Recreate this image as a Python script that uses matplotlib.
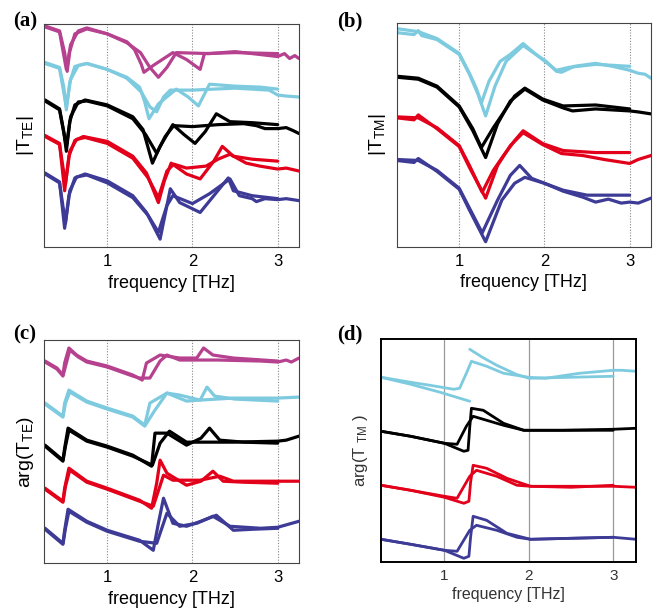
import numpy as np
import matplotlib.pyplot as plt

plt.rcParams['font.family'] = ['Liberation Sans', 'DejaVu Sans']

# sample colours, top to bottom
MAGENTA = '#b5418f'
CYAN = '#7ecbe0'
BLACK = '#000000'
RED = '#e2001a'
BLUE = '#3d3b96'

# ---- (a) |T_TE|  (frequency THz, offset amplitude a.u.) ----
a_magenta_sim = [(0.27, 222), (0.44, 217), (0.50, 195), (0.53, 176), (0.56, 196), (0.62, 214), (0.76, 219),
                 (1.0, 214), (1.23, 206), (1.32, 198), (1.40, 183), (1.43, 175), (1.54, 182), (1.77, 195),
                 (1.93, 188), (2.09, 178), (2.14, 194), (2.5, 195), (3.0, 194)]
a_magenta_meas = [(0.27, 221), (0.44, 216), (0.52, 178), (0.57, 203), (0.66, 217), (0.76, 220), (1.0, 214),
                  (1.23, 205), (1.39, 195), (1.50, 180), (1.60, 170), (1.70, 180), (1.81, 195), (2.2, 194),
                  (2.5, 196), (2.8, 193), (3.0, 191), (3.08, 194), (3.14, 189), (3.2, 192), (3.25, 189)]
a_cyan_sim = [(0.27, 185), (0.44, 180), (0.49, 160), (0.52, 137), (0.56, 165), (0.62, 181), (0.76, 184),
              (1.0, 178), (1.23, 170), (1.38, 160), (1.44, 145), (1.49, 128), (1.60, 143), (1.81, 158),
              (1.95, 150), (2.07, 141), (2.2, 163), (2.5, 161), (2.8, 160), (3.0, 158)]
a_cyan_meas = [(0.27, 184), (0.44, 179), (0.52, 140), (0.57, 168), (0.66, 182), (0.76, 184), (1.0, 178),
               (1.23, 169), (1.40, 155), (1.50, 140), (1.58, 135), (1.66, 150), (1.74, 157), (2.0, 157),
               (2.5, 159), (2.9, 157), (3.0, 152), (3.1, 151), (3.25, 150)]
a_black_sim = [(0.27, 147), (0.44, 138), (0.49, 115), (0.52, 95), (0.56, 125), (0.62, 142), (0.74, 147),
               (1.0, 142), (1.30, 130), (1.42, 117), (1.53, 83), (1.62, 100), (1.77, 122), (1.90, 112),
               (2.03, 103), (2.15, 115), (2.28, 133), (2.44, 125), (2.7, 124), (3.0, 122)]
a_black_meas = [(0.27, 146), (0.44, 137), (0.52, 100), (0.57, 130), (0.66, 145), (0.76, 146), (1.0, 141),
                (1.30, 128), (1.45, 112), (1.58, 93), (1.68, 110), (1.78, 121), (2.0, 120), (2.3, 122),
                (2.6, 123), (2.75, 121), (2.85, 118), (3.0, 118), (3.1, 119), (3.18, 116), (3.25, 113)]
a_red_sim = [(0.27, 111), (0.44, 103), (0.50, 55), (0.55, 90), (0.62, 106), (0.72, 110), (1.0, 105),
             (1.30, 90), (1.46, 73), (1.60, 43), (1.67, 65), (1.75, 83), (1.93, 72), (2.09, 67),
             (2.25, 85), (2.35, 100), (2.48, 90), (2.7, 87), (3.0, 85)]
a_red_meas = [(0.27, 110), (0.44, 102), (0.51, 62), (0.56, 95), (0.64, 107), (0.74, 109), (1.0, 103),
              (1.30, 88), (1.48, 68), (1.60, 48), (1.70, 75), (1.78, 82), (1.93, 78), (2.16, 80),
              (2.30, 87), (2.44, 92), (2.63, 83), (2.79, 80), (3.0, 77), (3.1, 78), (3.25, 75)]
a_blue_sim = [(0.27, 73), (0.44, 64), (0.50, 17), (0.55, 50), (0.62, 68), (0.74, 72), (1.0, 65),
              (1.30, 50), (1.46, 33), (1.62, 6), (1.74, 57), (1.85, 43), (2.09, 33), (2.25, 50),
              (2.42, 68), (2.48, 55), (2.7, 50), (3.0, 47)]
a_blue_meas = [(0.27, 72), (0.44, 63), (0.51, 22), (0.56, 55), (0.64, 69), (0.76, 71), (1.0, 63),
               (1.30, 48), (1.48, 30), (1.60, 13), (1.70, 40), (1.77, 50), (2.0, 42), (2.2, 52),
               (2.44, 67), (2.55, 50), (2.7, 47), (2.75, 44), (2.85, 47), (3.0, 46), (3.1, 47), (3.25, 45)]

# ---- (b) |T_TM| ----
b_cyan_sim = [(0.27, 218), (0.52, 215), (0.74, 208), (1.0, 193), (1.12, 173), (1.20, 158), (1.26, 143),
              (1.35, 165), (1.48, 185), (1.60, 192), (1.75, 203), (1.90, 192), (2.02, 184), (2.14, 176),
              (2.29, 179), (2.6, 182), (3.0, 180)]
b_cyan_meas = [(0.27, 214), (0.47, 212), (0.52, 216), (0.56, 211), (0.74, 207), (1.0, 192), (1.12, 172),
               (1.22, 152), (1.31, 130), (1.42, 160), (1.55, 185), (1.75, 201), (1.90, 192), (2.02, 185),
               (2.14, 175), (2.2, 174), (2.35, 180), (2.6, 183), (2.8, 180), (3.0, 176), (3.1, 173),
               (3.18, 172), (3.25, 168)]
b_black_sim = [(0.27, 170), (0.52, 168), (0.74, 160), (1.0, 140), (1.16, 117), (1.26, 98), (1.40, 118),
               (1.51, 132), (1.65, 150), (1.77, 158), (1.98, 147), (2.22, 140), (2.6, 141), (3.0, 137)]
b_black_meas = [(0.27, 169), (0.52, 167), (0.74, 159), (1.0, 139), (1.16, 115), (1.31, 88), (1.45, 122),
                (1.60, 145), (1.77, 157), (1.98, 146), (2.22, 138), (2.33, 135), (2.6, 137), (2.8, 136),
                (3.0, 135), (3.1, 134), (3.25, 132)]
b_red_sim = [(0.27, 129), (0.52, 128), (0.74, 118), (1.0, 100), (1.12, 80), (1.27, 53), (1.40, 75),
             (1.52, 90), (1.65, 105), (1.75, 115), (1.98, 102), (2.22, 95), (2.6, 93), (3.0, 93)]
b_red_meas = [(0.27, 128), (0.47, 126), (0.52, 131), (0.74, 117), (1.0, 99), (1.12, 78), (1.31, 47),
              (1.45, 80), (1.60, 100), (1.75, 113), (1.98, 101), (2.2, 92), (2.45, 90), (2.7, 86),
              (2.85, 84), (3.0, 82), (3.1, 86), (3.25, 90)]
b_blue_sim = [(0.27, 86), (0.52, 85), (0.74, 75), (1.0, 57), (1.12, 37), (1.27, 12), (1.45, 45),
              (1.60, 70), (1.71, 80), (1.85, 67), (2.0, 62), (2.22, 55), (2.5, 50), (3.0, 50)]
b_blue_meas = [(0.27, 85), (0.47, 83), (0.52, 87), (0.74, 74), (1.0, 56), (1.12, 35), (1.31, 3),
               (1.50, 45), (1.65, 62), (1.77, 68), (2.0, 62), (2.22, 54), (2.45, 48), (2.6, 43),
               (2.75, 46), (2.9, 42), (3.0, 43), (3.1, 42), (3.25, 47)]

# ---- (c) arg(T_TE) ----
c_magenta_sim = [(0.27, 202), (0.41, 195), (0.48, 188), (0.50, 200), (0.55, 215), (0.64, 208), (0.76, 202),
                 (1.0, 197), (1.30, 188), (1.41, 183), (1.46, 200), (1.62, 208), (1.85, 205), (2.05, 205),
                 (2.13, 215), (2.24, 208), (2.48, 205), (3.0, 202)]
c_magenta_meas = [(0.27, 201), (0.41, 194), (0.48, 187), (0.52, 200), (0.56, 213), (0.66, 206), (0.76, 201),
                  (1.0, 196), (1.30, 187), (1.38, 185), (1.50, 185), (1.62, 202), (1.70, 208), (1.85, 203),
                  (2.3, 203), (2.8, 202), (3.0, 201), (3.1, 203), (3.16, 201), (3.25, 205)]
c_cyan_sim = [(0.27, 160), (0.48, 147), (0.50, 160), (0.55, 173), (0.76, 162), (1.0, 155), (1.30, 147),
              (1.44, 138), (1.50, 160), (1.70, 170), (1.93, 162), (2.09, 163), (2.17, 176), (2.26, 167),
              (2.5, 164), (3.0, 162)]
c_cyan_meas = [(0.27, 159), (0.48, 146), (0.51, 160), (0.56, 171), (0.76, 161), (1.0, 154), (1.30, 146),
               (1.44, 137), (1.56, 153), (1.70, 170), (1.85, 168), (2.09, 163), (2.48, 165), (3.0, 165),
               (3.25, 166)]
c_black_sim = [(0.27, 118), (0.48, 103), (0.50, 115), (0.54, 135), (0.76, 123), (1.0, 117), (1.30, 108),
               (1.52, 97), (1.56, 130), (1.70, 130), (1.93, 118), (2.1, 125), (2.20, 135), (2.32, 123),
               (2.6, 121), (3.0, 120)]
c_black_meas = [(0.27, 117), (0.48, 102), (0.51, 117), (0.55, 133), (0.76, 122), (1.0, 116), (1.30, 107),
                (1.53, 98), (1.62, 120), (1.73, 132), (1.93, 121), (2.48, 121), (3.0, 122), (3.1, 123),
                (3.25, 127)]
c_red_sim = [(0.27, 75), (0.48, 62), (0.50, 75), (0.55, 95), (0.76, 82), (1.0, 75), (1.38, 63),
             (1.52, 55), (1.58, 80), (1.62, 103), (1.70, 90), (1.93, 78), (2.1, 82), (2.24, 92),
             (2.36, 82), (2.6, 81), (3.0, 80)]
c_red_meas = [(0.27, 74), (0.48, 61), (0.51, 77), (0.56, 93), (0.76, 81), (1.0, 74), (1.38, 62),
              (1.54, 57), (1.66, 88), (1.77, 83), (2.09, 83), (2.32, 87), (2.48, 82), (3.0, 82), (3.25, 82)]
c_blue_sim = [(0.27, 35), (0.48, 20), (0.50, 33), (0.54, 54), (0.76, 42), (1.0, 33), (1.38, 23),
              (1.54, 13), (1.60, 40), (1.66, 65), (1.77, 40), (1.93, 37), (2.1, 42), (2.28, 48),
              (2.48, 33), (2.7, 34), (3.0, 35)]
c_blue_meas = [(0.27, 34), (0.48, 19), (0.51, 35), (0.55, 52), (0.76, 41), (1.0, 32), (1.38, 22),
               (1.58, 20), (1.70, 50), (1.85, 37), (2.05, 40), (2.24, 47), (2.44, 37), (2.8, 35),
               (3.0, 36), (3.25, 42)]

# ---- (d) arg(T_TM) ----  (None = phase wrap, line break)
d_cyan_sim = [(0.25, 185), (0.6, 178), (0.95, 170), (1.30, 161), (None, None),
              (1.30, 213), (1.45, 205), (1.62, 197), (1.85, 188), (2.0, 184), (2.5, 185), (3.0, 186)]
d_cyan_meas = [(0.25, 185), (0.6, 180), (0.83, 177), (1.11, 173), (1.18, 174), (1.26, 189), (1.32, 201),
               (1.50, 196), (1.70, 189), (2.0, 185), (2.2, 184), (2.6, 189), (3.0, 192), (3.1, 192),
               (3.27, 191)]
d_black_sim = [(0.25, 131), (0.6, 126), (1.0, 119), (1.23, 111), (1.28, 112), (1.30, 135), (1.32, 154),
               (1.46, 152), (1.70, 139), (1.94, 132), (2.5, 132), (3.0, 132)]
d_black_meas = [(0.25, 131), (0.6, 126), (1.0, 119), (1.15, 118), (1.26, 136), (1.34, 146), (1.50, 142),
                (1.70, 137), (1.94, 132), (2.4, 132), (3.0, 133), (3.27, 134)]
d_red_sim = [(0.25, 77), (0.6, 72), (1.0, 65), (1.23, 59), (1.29, 61), (1.31, 80), (1.34, 97),
             (1.50, 94), (1.74, 84), (2.02, 76), (2.5, 75), (3.0, 77)]
d_red_meas = [(0.25, 77), (0.6, 72), (1.0, 66), (1.15, 64), (1.30, 86), (1.38, 92), (1.62, 86),
              (1.86, 77), (2.02, 76), (2.5, 76), (3.0, 76), (3.27, 75)]
d_blue_sim = [(0.25, 23), (0.6, 18), (1.0, 12), (1.23, 4), (1.29, 6), (1.31, 25), (1.34, 46),
              (1.50, 42), (1.74, 29), (2.02, 23), (2.5, 24), (3.0, 25)]
d_blue_meas = [(0.25, 23), (0.6, 18), (1.0, 12), (1.15, 11), (1.30, 32), (1.38, 37), (1.62, 32),
               (1.86, 25), (2.02, 23), (2.5, 24), (3.0, 25), (3.27, 23)]

freq_ticks = [1, 2, 3]


def draw_curves(ax, curves, lw=2.3):
    for color, pts in curves:
        arr = np.array(pts, dtype=float)
        ax.plot(arr[:, 0], arr[:, 1], color=color, lw=lw,
                solid_joinstyle='round', solid_capstyle='round')


def style_axes(ax, xlim, ylim, dotted=True):
    ax.set_xlim(*xlim)
    ax.set_ylim(*ylim)
    ax.set_xticks(freq_ticks)
    ax.set_yticks([])
    if dotted:
        ax.grid(axis='x', color='#888888', ls=(0, (1, 1.5)), lw=0.8)
        for s in ax.spines.values():
            s.set_color('#444444')
            s.set_linewidth(0.8)
    else:
        ax.grid(axis='x', color='#999999', ls='-', lw=0.9)
        for s in ax.spines.values():
            s.set_color('black')
            s.set_linewidth(1.4)
    ax.set_axisbelow(True)
    ax.tick_params(axis='x', length=0, labelsize=12, pad=5)


fig = plt.figure(figsize=(6.54, 6.09), dpi=100)
ax_a = fig.add_axes([0.0673, 0.5944, 0.3899, 0.3662])
ax_b = fig.add_axes([0.6066, 0.5949, 0.3888, 0.3678])
ax_c = fig.add_axes([0.0673, 0.0750, 0.3899, 0.3667])
ax_d = fig.add_axes([0.5821, 0.0767, 0.3904, 0.3662])

draw_curves(ax_a, [(MAGENTA, a_magenta_sim), (MAGENTA, a_magenta_meas),
                   (CYAN, a_cyan_sim), (CYAN, a_cyan_meas),
                   (BLACK, a_black_sim), (BLACK, a_black_meas),
                   (RED, a_red_sim), (RED, a_red_meas),
                   (BLUE, a_blue_sim), (BLUE, a_blue_meas)])
style_axes(ax_a, (0.258, 3.25), (-2, 224))
ax_a.set_xlabel('frequency [THz]', fontsize=13, labelpad=4)
ax_a.set_ylabel(r'$\mathregular{|T_{TE}|}$', fontsize=14, labelpad=6)

draw_curves(ax_b, [(CYAN, b_cyan_sim), (CYAN, b_cyan_meas),
                   (BLACK, b_black_sim), (BLACK, b_black_meas),
                   (RED, b_red_sim), (RED, b_red_meas),
                   (BLUE, b_blue_sim), (BLUE, b_blue_meas)])
style_axes(ax_b, (0.267, 3.25), (-2, 224))
ax_b.set_xlabel('frequency [THz]', fontsize=13, labelpad=4)
ax_b.set_ylabel(r'$\mathregular{|T_{TM}|}$', fontsize=14, labelpad=6)

draw_curves(ax_c, [(MAGENTA, c_magenta_sim), (MAGENTA, c_magenta_meas),
                   (CYAN, c_cyan_sim), (CYAN, c_cyan_meas),
                   (BLACK, c_black_sim), (BLACK, c_black_meas),
                   (RED, c_red_sim), (RED, c_red_meas),
                   (BLUE, c_blue_sim), (BLUE, c_blue_meas)])
style_axes(ax_c, (0.258, 3.25), (0, 223))
ax_c.set_xlabel('frequency [THz]', fontsize=13, labelpad=4)
ax_c.set_ylabel(r'arg(T$\mathregular{_{TE}}$)', fontsize=14, labelpad=6)

draw_curves(ax_d, [(CYAN, d_cyan_sim), (CYAN, d_cyan_meas),
                   (BLACK, d_black_sim), (BLACK, d_black_meas),
                   (RED, d_red_sim), (RED, d_red_meas),
                   (BLUE, d_blue_sim), (BLUE, d_blue_meas)], lw=2.0)
style_axes(ax_d, (0.245, 3.27), (0, 223), dotted=False)
ax_d.tick_params(axis='x', labelsize=11, colors='#333333')
ax_d.set_xlabel('frequency [THz]', fontsize=11.5, labelpad=3, color='#333333')
ax_d.set_ylabel(r'arg(T $\mathregular{_{TM}}$ )', fontsize=12, labelpad=8, color='#333333')

for label, x, y in [('(a)', 0.02, 0.965), ('(b)', 0.515, 0.965),
                    ('(c)', 0.02, 0.45), ('(d)', 0.515, 0.45)]:
    fig.text(x, y, label, fontsize=15, fontweight='bold',
             family=['Liberation Serif', 'DejaVu Serif'], va='center', ha='left')

fig.savefig('out.png', dpi=100)
